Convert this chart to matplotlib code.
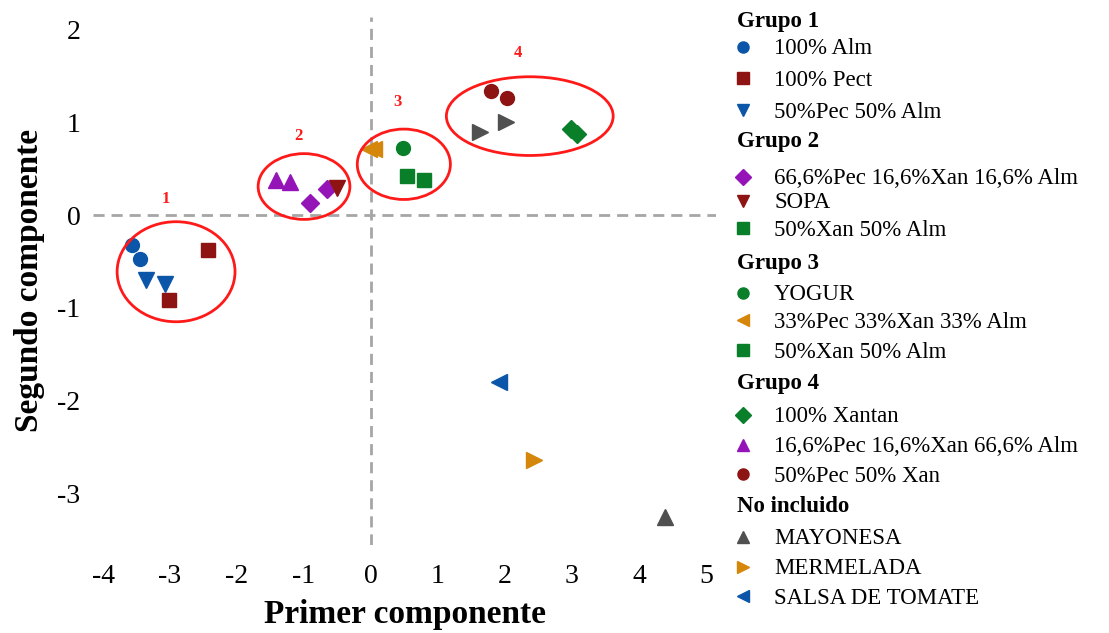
import matplotlib
matplotlib.use("Agg")
import matplotlib.pyplot as plt
from matplotlib.patches import Ellipse

plt.rcParams['font.family'] = ['Liberation Serif', 'DejaVu Serif']
plt.rcParams['axes.unicode_minus'] = False

# ---- data ----
alm100 = ([-3.57, -3.45], [-0.32, -0.47])
pect100 = ([-2.43, -3.01], [-0.38, -0.91])
pec50_alm50 = ([-3.36, -3.07], [-0.70, -0.74])

pec66_xan16_alm16 = ([-0.91, -0.66], [0.13, 0.28])
sopa = ([-0.51], [0.29])
pec16_xan16_alm66 = ([-1.42, -1.21], [0.38, 0.36])

pec33_xan33_alm33 = ([-0.03, 0.04], [0.71, 0.71])
yogur = ([0.48], [0.73])
xan50_alm50 = ([0.54, 0.79], [0.42, 0.38])

pec50_xan50 = ([1.79, 2.03], [1.34, 1.27])
gray_right = ([1.63, 2.01], [0.90, 1.01])
xantan100 = ([2.99, 3.07], [0.93, 0.88])

salsa = ([1.91], [-1.80])
mermelada = ([2.43], [-2.64])
mayonesa = ([4.39], [-3.26])

# clusters: centre x, centre y, width, height, label position
cluster_ids = ["1", "2", "3", "4"]
cluster_cx = [-2.91, -1.00, 0.49, 2.37]
cluster_cy = [-0.61, 0.31, 0.55, 1.07]
cluster_w = [1.76, 1.37, 1.39, 2.49]
cluster_h = [1.08, 0.71, 0.76, 0.85]
label_x = [-3.06, -1.09, 0.40, 2.19]
label_y = [0.17, 0.86, 1.22, 1.75]

BLUE = "#0b56a8"
DRED = "#8e1414"
GREEN = "#0a7f2a"
PURPLE = "#9514b8"
ORANGE = "#d4870a"
GRAY = "#505050"
RED = "#ff1a1a"

series = [
    (alm100, "o", BLUE, 10),
    (pect100, "s", DRED, 9.5),
    (pec50_alm50, "v", BLUE, 11),
    (pec66_xan16_alm16, "D", PURPLE, 9),
    (sopa, "v", DRED, 11),
    (pec16_xan16_alm66, "^", PURPLE, 11),
    (pec33_xan33_alm33, "<", ORANGE, 11),
    (yogur, "o", GREEN, 10),
    (xan50_alm50, "s", GREEN, 9.5),
    (pec50_xan50, "o", DRED, 10),
    (gray_right, ">", GRAY, 11),
    (xantan100, "D", GREEN, 9),
    (salsa, "<", BLUE, 11),
    (mermelada, ">", ORANGE, 11),
    (mayonesa, "^", GRAY, 11),
]

fig = plt.figure(figsize=(11.09, 6.33), dpi=100)
W, H = 1109, 633
ax = fig.add_axes([93 / W, 1 - 545 / H, (716 - 93) / W, (545 - 17) / H])
ax.set_xlim(-4.15, 5.15)
ax.set_ylim(-3.56, 2.14)

ax.axhline(0, color="#a6a6a6", lw=2, ls=(0, (4, 2.5)), zorder=1)
ax.axvline(0, color="#a6a6a6", lw=2, ls=(0, (4, 2.5)), zorder=1)

for (xs, ys), m, c, s in series:
    ax.plot(xs, ys, ls="none", marker=m, color=c, markersize=s, mec=c, zorder=3)

for cid, cx, cy, w, h, lx, ly in zip(cluster_ids, cluster_cx, cluster_cy, cluster_w,
                                     cluster_h, label_x, label_y):
    ax.add_patch(Ellipse((cx, cy), w, h, fill=False, ec=RED, lw=2, zorder=4))
    ax.text(lx, ly, cid, color=RED, fontsize=12, fontweight="bold", ha="center", va="center")

ax.set_xticks(range(-4, 6))
ax.set_yticks(range(-3, 3))
ax.tick_params(length=0, labelsize=20, pad=9)
ax.tick_params(axis="x", pad=14)
for sp in ax.spines.values():
    sp.set_visible(False)

fig.text(405 / W, 1 - 614 / H, "Primer componente", fontsize=24, fontweight="bold",
         ha="center", va="center")
fig.text(30 / W, 1 - 280 / H, "Segundo componente", fontsize=24, fontweight="bold",
         ha="center", va="center", rotation=90)

# ---- legend (manual, pixel layout) ----
leg = fig.add_axes([0, 0, 1, 1], zorder=5)
leg.set_xlim(0, W)
leg.set_ylim(H, 0)
leg.axis("off")

headers = ["Grupo 1", "Grupo 2", "Grupo 3", "Grupo 4", "No incluido"]
header_y = [20, 140, 261, 381, 505]
entries = ["100% Alm", "100% Pect", "50%Pec 50% Alm",
           "66,6%Pec 16,6%Xan 16,6% Alm", "SOPA", "50%Xan 50% Alm",
           "YOGUR", "33%Pec 33%Xan 33% Alm", "50%Xan 50% Alm",
           "100% Xantan", "16,6%Pec 16,6%Xan 66,6% Alm", "50%Pec 50% Xan",
           "MAYONESA", "MERMELADA", "SALSA DE TOMATE"]
entry_marker = ["o", "s", "v", "D", "v", "s", "o", "<", "s", "D", "^", "o", "^", ">", "<"]
entry_color = [BLUE, DRED, BLUE, PURPLE, DRED, GREEN, GREEN, ORANGE, GREEN,
               GREEN, PURPLE, DRED, GRAY, ORANGE, BLUE]
entry_y = [47, 78, 110, 177, 201, 228, 293, 320, 350, 415, 445, 474, 537, 567, 596]

for t, y in zip(headers, header_y):
    leg.text(737, y + 2, t, fontsize=16.5, fontweight="bold", ha="left", va="center")
for t, m, c, y in zip(entries, entry_marker, entry_color, entry_y):
    leg.plot([743], [y], ls="none", marker=m, color=c, markersize=8)
    leg.text(774, y + 2, t, fontsize=16.5, ha="left", va="center")

fig.savefig("out.png", dpi=100, facecolor="white")
